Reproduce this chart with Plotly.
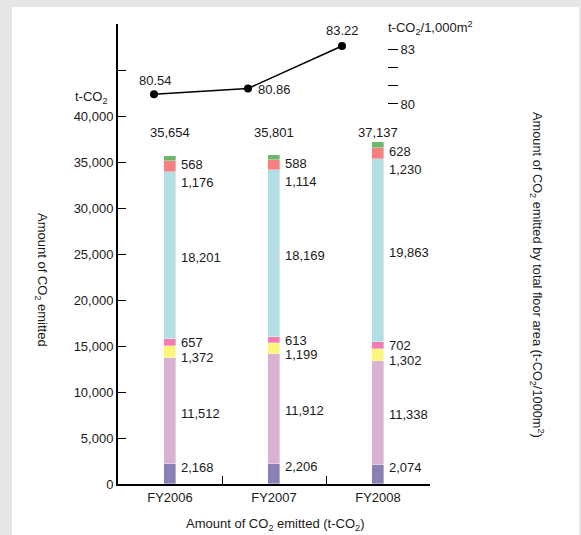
import plotly.graph_objects as go

# ---------------- data ----------------
years = ["FY2006", "FY2007", "FY2008"]
# stacked segments, bottom -> top
seg_purple = [2168, 2206, 2074]
seg_lilac = [11512, 11912, 11338]
seg_yellow = [1372, 1199, 1302]
seg_pink = [657, 613, 702]
seg_cyan = [18201, 18169, 19863]
seg_salmon = [1176, 1114, 1230]
seg_green = [568, 588, 628]
totals = [35654, 35801, 37137]
intensity = [80.54, 80.86, 83.22]

left_ticks = [0, 5000, 10000, 15000, 20000, 25000, 30000, 35000, 40000, 45000, 50000]
left_ticktext = ["0", "5,000", "10,000", "15,000", "20,000", "25,000", "30,000",
                 "35,000", "40,000", "", ""]
right_ticks = [80, 81, 82, 83]
right_ticktext = ["80", "", "", "83"]

segments = [seg_purple, seg_lilac, seg_yellow, seg_pink, seg_cyan, seg_salmon, seg_green]
colors = ["#8a80b6", "#d8b2d0", "#faf67c", "#f27db0", "#b3dee3", "#f68080", "#6cb66a"]
# label vertical nudges in px (positive = down) per segment type
label_nudge = [-7, 2, 6, 0, 2, 16, 6]
# line label offsets in px (dx, dy up)
line_label_shift = [(1, 14), (26, -1), (0, 15)]

FONT = "Liberation Sans, Arial, sans-serif"
FS = 13
TXT = "#1a1a1a"

# plot-area pixel geometry
W, H = 581, 535
L, R, T, B = 118, 151, 24, 51
PW, PH = W - L - R, H - T - B


def xp(px):
    return (px - L) / PW


def yp(py):
    return (H - B - py) / PH


fig = go.Figure()

for vals, col in zip(segments, colors):
    fig.add_trace(go.Bar(
        x=years, y=vals, width=0.115,
        marker=dict(color=col, line=dict(color="rgba(255,255,255,0.6)", width=0.6)),
        hoverinfo="skip", showlegend=False,
    ))

fig.add_trace(go.Scatter(
    x=years, y=intensity, xaxis="x2", yaxis="y2",
    mode="lines+markers",
    line=dict(color="black", width=1.5),
    marker=dict(color="black", size=8),
    cliponaxis=False, showlegend=False, hoverinfo="skip",
))

annotations = []
for i, v in enumerate(intensity):
    dx, dy = line_label_shift[i]
    annotations.append(dict(
        x=years[i], y=v, xref="x2", yref="y2", text=f"{v:.2f}", showarrow=False,
        xanchor="center", yanchor="middle", xshift=dx, yshift=dy,
        font=dict(family=FONT, size=FS, color=TXT),
    ))

# segment labels
for i in range(len(years)):
    base = 0
    for s, vals in enumerate(segments):
        v = vals[i]
        annotations.append(dict(
            x=years[i], y=base + v / 2, xref="x", yref="y",
            text=f"{v:,}", showarrow=False, xanchor="left", yanchor="middle",
            xshift=9, yshift=-label_nudge[s],
            font=dict(family=FONT, size=FS, color=TXT),
        ))
        base += v
    annotations.append(dict(
        x=years[i], y=yp(132), xref="x", yref="paper",
        text=f"{totals[i]:,}", showarrow=False, xanchor="center", yanchor="middle",
        font=dict(family=FONT, size=FS, color=TXT),
    ))

annotations += [
    dict(x=xp(110), y=yp(98), xref="paper", yref="paper", text="t-CO<sub>2</sub>",
         showarrow=False, xanchor="right", yanchor="middle",
         font=dict(family=FONT, size=FS, color=TXT)),
    dict(x=xp(386), y=yp(28), xref="paper", yref="paper",
         text="t-CO<sub>2</sub>/1,000m<sup>2</sup>",
         showarrow=False, xanchor="left", yanchor="middle",
         font=dict(family=FONT, size=FS, color=TXT)),
    dict(x=xp(42), y=yp(280), xref="paper", yref="paper",
         text="Amount of CO<sub>2</sub> emitted", textangle=90,
         showarrow=False, xanchor="center", yanchor="middle",
         font=dict(family=FONT, size=FS, color=TXT)),
    dict(x=xp(537), y=yp(275), xref="paper", yref="paper",
         text="Amount of CO<sub>2</sub> emitted by total floor area (t-CO<sub>2</sub>/1000m<sup>2</sup>)",
         textangle=90, showarrow=False, xanchor="center", yanchor="middle",
         font=dict(family=FONT, size=12.8, color=TXT)),
    dict(x=xp(275), y=yp(524), xref="paper", yref="paper",
         text="Amount of CO<sub>2</sub> emitted (t-CO<sub>2</sub>)",
         showarrow=False, xanchor="center", yanchor="middle",
         font=dict(family=FONT, size=FS, color=TXT)),
]

shapes = [dict(type="rect", xref="paper", yref="paper", layer="below",
               x0=xp(12), x1=xp(579), y0=yp(7), y1=yp(540),
               fillcolor="white", line=dict(width=0))]

fig.update_layout(
    width=W, height=H, autosize=False,
    margin=dict(l=L, r=R, t=T, b=B, pad=0),
    paper_bgcolor="#e6e6e6", plot_bgcolor="rgba(0,0,0,0)",
    barmode="stack", bargap=0,
    font=dict(family=FONT, size=FS, color=TXT),
    xaxis=dict(type="category", categoryorder="array", categoryarray=years,
               range=[-0.5, 2.5], tickson="boundaries", ticks="inside", ticklen=8,
               tickwidth=1, tickcolor="black", showline=True, linewidth=2, linecolor="black",
               showgrid=False, zeroline=False, fixedrange=True,
               tickfont=dict(family=FONT, size=FS, color=TXT)),
    yaxis=dict(range=[0, 50000], tickvals=left_ticks, ticktext=left_ticktext,
               ticks="inside", ticklen=8, tickwidth=1, tickcolor="black",
               showline=True, linewidth=2, linecolor="black",
               showgrid=False, zeroline=False, fixedrange=True,
               tickfont=dict(family=FONT, size=FS, color=TXT)),
    xaxis2=dict(type="category", categoryorder="array", categoryarray=years,
                overlaying="x", range=[-0.383, 2.936], visible=False, fixedrange=True),
    yaxis2=dict(overlaying="y", side="right", anchor="free", position=xp(387),
                range=[58.89, 84.44], tickvals=right_ticks, ticktext=right_ticktext,
                ticks="outside", ticklen=10, tickwidth=1, tickcolor="black",
                showline=False, showgrid=False, zeroline=False, fixedrange=True,
                tickfont=dict(family=FONT, size=FS, color=TXT)),
    annotations=annotations, shapes=shapes,
)

fig.write_html(
    "out.html",
    config={"displayModeBar": False},
    post_script="document.body.style.margin='0';document.body.style.overflow='hidden';",
)
